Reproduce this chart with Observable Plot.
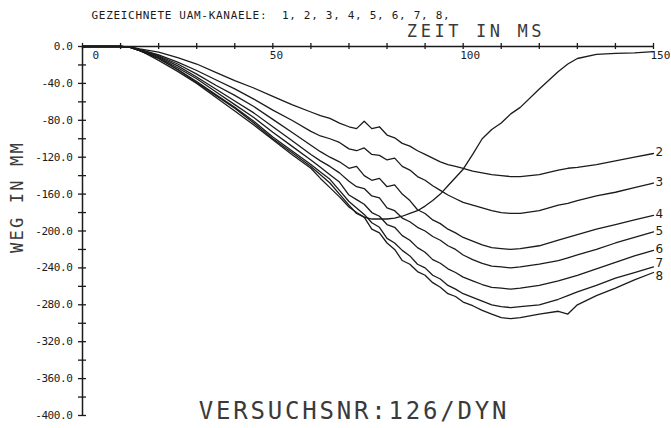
<!DOCTYPE html>
<html><head><meta charset="utf-8">
<script src="https://cdn.jsdelivr.net/npm/d3@7"></script>
<script src="https://cdn.jsdelivr.net/npm/@observablehq/plot@0.6"></script>
<style>html,body{margin:0;padding:0;background:#fff;} #chart svg{display:block;}</style>
</head><body><div id="chart"></div>
<script>
// time axis (ms)
const ms = [0,5,10,12.5,15,20,25,30,35,40,45,50,55,60,62.5,65,67.5,70,72,74,76,78,80,82,84,86,88,90,92,94,96,98,100,102.5,105,107.5,110,112.5,115,120,125,127.5,130,135,140,145,150];
// displacement (mm) per UAM channel
const ch1 = [0,0,0,-1,-4,-15,-27,-40,-55,-70,-85,-101,-117,-132,-143,-153,-163,-174,-180,-185,-187,-187,-187,-186,-184,-181,-178,-173,-167,-160,-151,-142,-133,-117,-100,-90,-83,-73,-66,-46,-27,-19,-13,-8.5,-7.5,-7,-5.5];
const ch2 = [0,0,0,-0.5,-2.5,-6,-12,-19,-28,-37,-45,-54,-63,-71,-75,-78,-83,-87,-89,-81,-89,-87,-96,-99,-105,-108,-113,-117,-121,-125,-128,-130,-132,-135,-137,-139,-140,-141,-141,-139,-134,-132,-131,-128,-124,-120,-116];
const ch3 = [0,0,0,-0.5,-3,-9,-17,-26,-36,-46,-57,-69,-80,-92,-97,-100,-104,-111,-113,-110,-117,-118,-123,-121,-130,-134,-141,-145,-151,-156,-161,-165,-169,-172,-175,-178,-180,-181,-181,-178,-172,-170,-167,-162,-158,-153,-148];
const ch4 = [0,0,0,-0.7,-3.5,-10,-19,-30,-42,-53,-65,-79,-93,-107,-114,-120,-125,-132,-130,-140,-145,-143,-152,-150,-160,-167,-177,-181,-188,-192,-198,-202,-207,-211,-215,-218,-219,-220,-219,-216,-210,-207,-204,-198,-193,-188,-183];
const ch5 = [0,0,0,-0.8,-4,-11,-21,-33,-46,-59,-72,-87,-102,-117,-124,-130,-137,-146,-152,-154,-162,-164,-175,-178,-186,-190,-196,-200,-206,-210,-216,-220,-226,-231,-235,-238,-239,-240,-239,-236,-232,-229,-226,-220,-213,-207,-201];
const ch6 = [0,0,0,-0.9,-4.5,-12,-23,-35,-49,-63,-77,-93,-108,-123,-131,-139,-147,-161,-166,-171,-180,-184,-193,-196,-205,-210,-218,-223,-231,-235,-241,-245,-250,-254,-258,-261,-262,-263,-262,-259,-254,-251,-248,-241,-234,-227,-221];
const ch7 = [0,0,0,-1,-4.5,-13,-25,-38,-52,-66,-81,-98,-113,-128,-136,-144,-156,-168,-175,-182,-191,-196,-208,-213,-221,-227,-236,-240,-248,-252,-259,-263,-268,-272,-276,-280,-282,-283,-282,-280,-274,-270,-266,-259,-251,-245,-239];
const ch8 = [0,0,0,-1,-4.5,-13,-25,-39,-53,-67,-83,-100,-115,-130,-139,-148,-160,-172,-181,-185,-198,-202,-213,-220,-232,-236,-244,-248,-256,-261,-268,-271,-277,-281,-286,-290,-294,-295,-294,-290,-287,-290,-280,-270,-262,-253,-245];

const channels = ["1","2","3","4","5","6","7","8"];
const endLabels = ["2","3","4","5","6","7","8"];
const xTicks = [0,10,20,30,40,50,60,70,80,90,100,110,120,130,140,150];
const xTickLabels = [0,50,100,150];
const yTicks = [0,-20,-40,-60,-80,-100,-120,-140,-160,-180,-200,-220,-240,-260,-280,-300,-320,-340,-360,-380,-400];
const yTickLabels = [0,-40,-80,-120,-160,-200,-240,-280,-320,-360,-400];
const titleText = "GEZEICHNETE UAM-KANAELE:  1, 2, 3, 4, 5, 6, 7, 8,";
const xLabel = "ZEIT IN MS";
const yLabel = "WEG IN MM";
const caption = "VERSUCHSNR:126/DYN";

const series = [ch1,ch2,ch3,ch4,ch5,ch6,ch7,ch8];
const rows = series.flatMap((s, k) => s.map((v, i) => ({t: ms[i], v, ch: channels[k]})));
const ends = series.slice(1).map((s, k) => ({t: ms[ms.length - 1], v: s[s.length - 1], label: endLabels[k]}));
const endsMid = ends.filter(d => d.label !== "7" && d.label !== "8");
const end7 = ends.filter(d => d.label === "7");
const end8 = ends.filter(d => d.label === "8");

const ink = "#1b1b1b";
const thin = "#3a3a3a";
const mono = "'DejaVu Sans Mono', monospace";
const sans = "'DejaVu Sans', sans-serif";

const chart = Plot.plot({
  width: 671, height: 428,
  marginLeft: 82, marginRight: 18, marginTop: 46, marginBottom: 13,
  x: {domain: [0, 150], axis: null},
  y: {domain: [-400, 0], axis: null},
  style: {background: "#fff", color: ink},
  marks: [
    Plot.ruleY([0], {x1: 0, x2: 150, stroke: ink, strokeWidth: 1.5}),
    Plot.ruleX([0], {y1: -400, y2: 0, stroke: ink, strokeWidth: 1.5}),
    Plot.ruleX(xTicks, {x: d => d, y1: 3.3, y2: -3.3, stroke: ink, strokeWidth: 1.3}),
    Plot.ruleY(yTicks, {y: d => d, x1: -1.05, x2: 1.05, stroke: ink, strokeWidth: 1.3}),
    Plot.text(yTickLabels, {x: 0, y: d => d, text: d => d.toFixed(1), textAnchor: "end", lineAnchor: "middle", dx: -10, fontFamily: mono, fontSize: 11, fill: ink, ariaDescription: "ylab"}),
    Plot.text(xTickLabels.slice(0, 1), {x: d => d, y: 0, text: d => String(d), textAnchor: "start", lineAnchor: "middle", dx: 10, dy: 9, fontFamily: mono, fontSize: 11, fill: ink}),
    Plot.text(xTickLabels.slice(1), {x: d => d, y: 0, text: d => String(d), textAnchor: "start", lineAnchor: "middle", dx: -3, dy: 9, fontFamily: mono, fontSize: 11, fill: ink}),
    Plot.line(rows, {x: "t", y: "v", z: "ch", stroke: ink, strokeWidth: 1.3, strokeLinejoin: "round"}),
    Plot.text(endsMid, {x: "t", y: "v", text: "label", textAnchor: "start", lineAnchor: "middle", dx: 2, dy: -1, fontFamily: sans, fontSize: 12, fill: ink}),
    Plot.text(end7, {x: "t", y: "v", text: "label", textAnchor: "start", lineAnchor: "middle", dx: 2, dy: -3.5, fontFamily: sans, fontSize: 12, fill: ink}),
    Plot.text(end8, {x: "t", y: "v", text: "label", textAnchor: "start", lineAnchor: "middle", dx: 2, dy: 3.5, fontFamily: sans, fontSize: 12, fill: ink}),
    Plot.text([titleText], {text: d => d, frameAnchor: "top-left", textAnchor: "start", lineAnchor: "middle", dx: 9, dy: -31, fontFamily: mono, fontSize: 11, fill: ink, ariaDescription: "title"}),
    Plot.text([xLabel], {text: d => d, frameAnchor: "top", textAnchor: "middle", lineAnchor: "middle", dx: 108, dy: -14.5, fontFamily: mono, fontSize: 17, fill: thin, ariaDescription: "xtitle"}),
    Plot.text([yLabel], {text: d => d, frameAnchor: "left", textAnchor: "middle", lineAnchor: "middle", rotate: -90, dx: -65, dy: -34, fontFamily: mono, fontSize: 17, fill: thin, ariaDescription: "ytitle"}),
    Plot.text([caption], {text: d => d, frameAnchor: "bottom", textAnchor: "middle", lineAnchor: "middle", dx: -14, dy: -4, fontFamily: mono, fontSize: 24, fill: thin, ariaDescription: "caption"})
  ]
});

const svg = d3.select(chart);
svg.selectAll('g[aria-description="title"] text').style("letter-spacing", "0.7px");
svg.selectAll('g[aria-description="xtitle"] text').style("letter-spacing", "3.6px");
svg.selectAll('g[aria-description="ytitle"] text').style("letter-spacing", "2.2px");
svg.selectAll('g[aria-description="caption"] text').style("letter-spacing", "2.8px");
svg.selectAll('g[aria-description="ylab"] text').style("letter-spacing", "-0.4px");
document.getElementById("chart").appendChild(chart);
</script>
</body></html>
